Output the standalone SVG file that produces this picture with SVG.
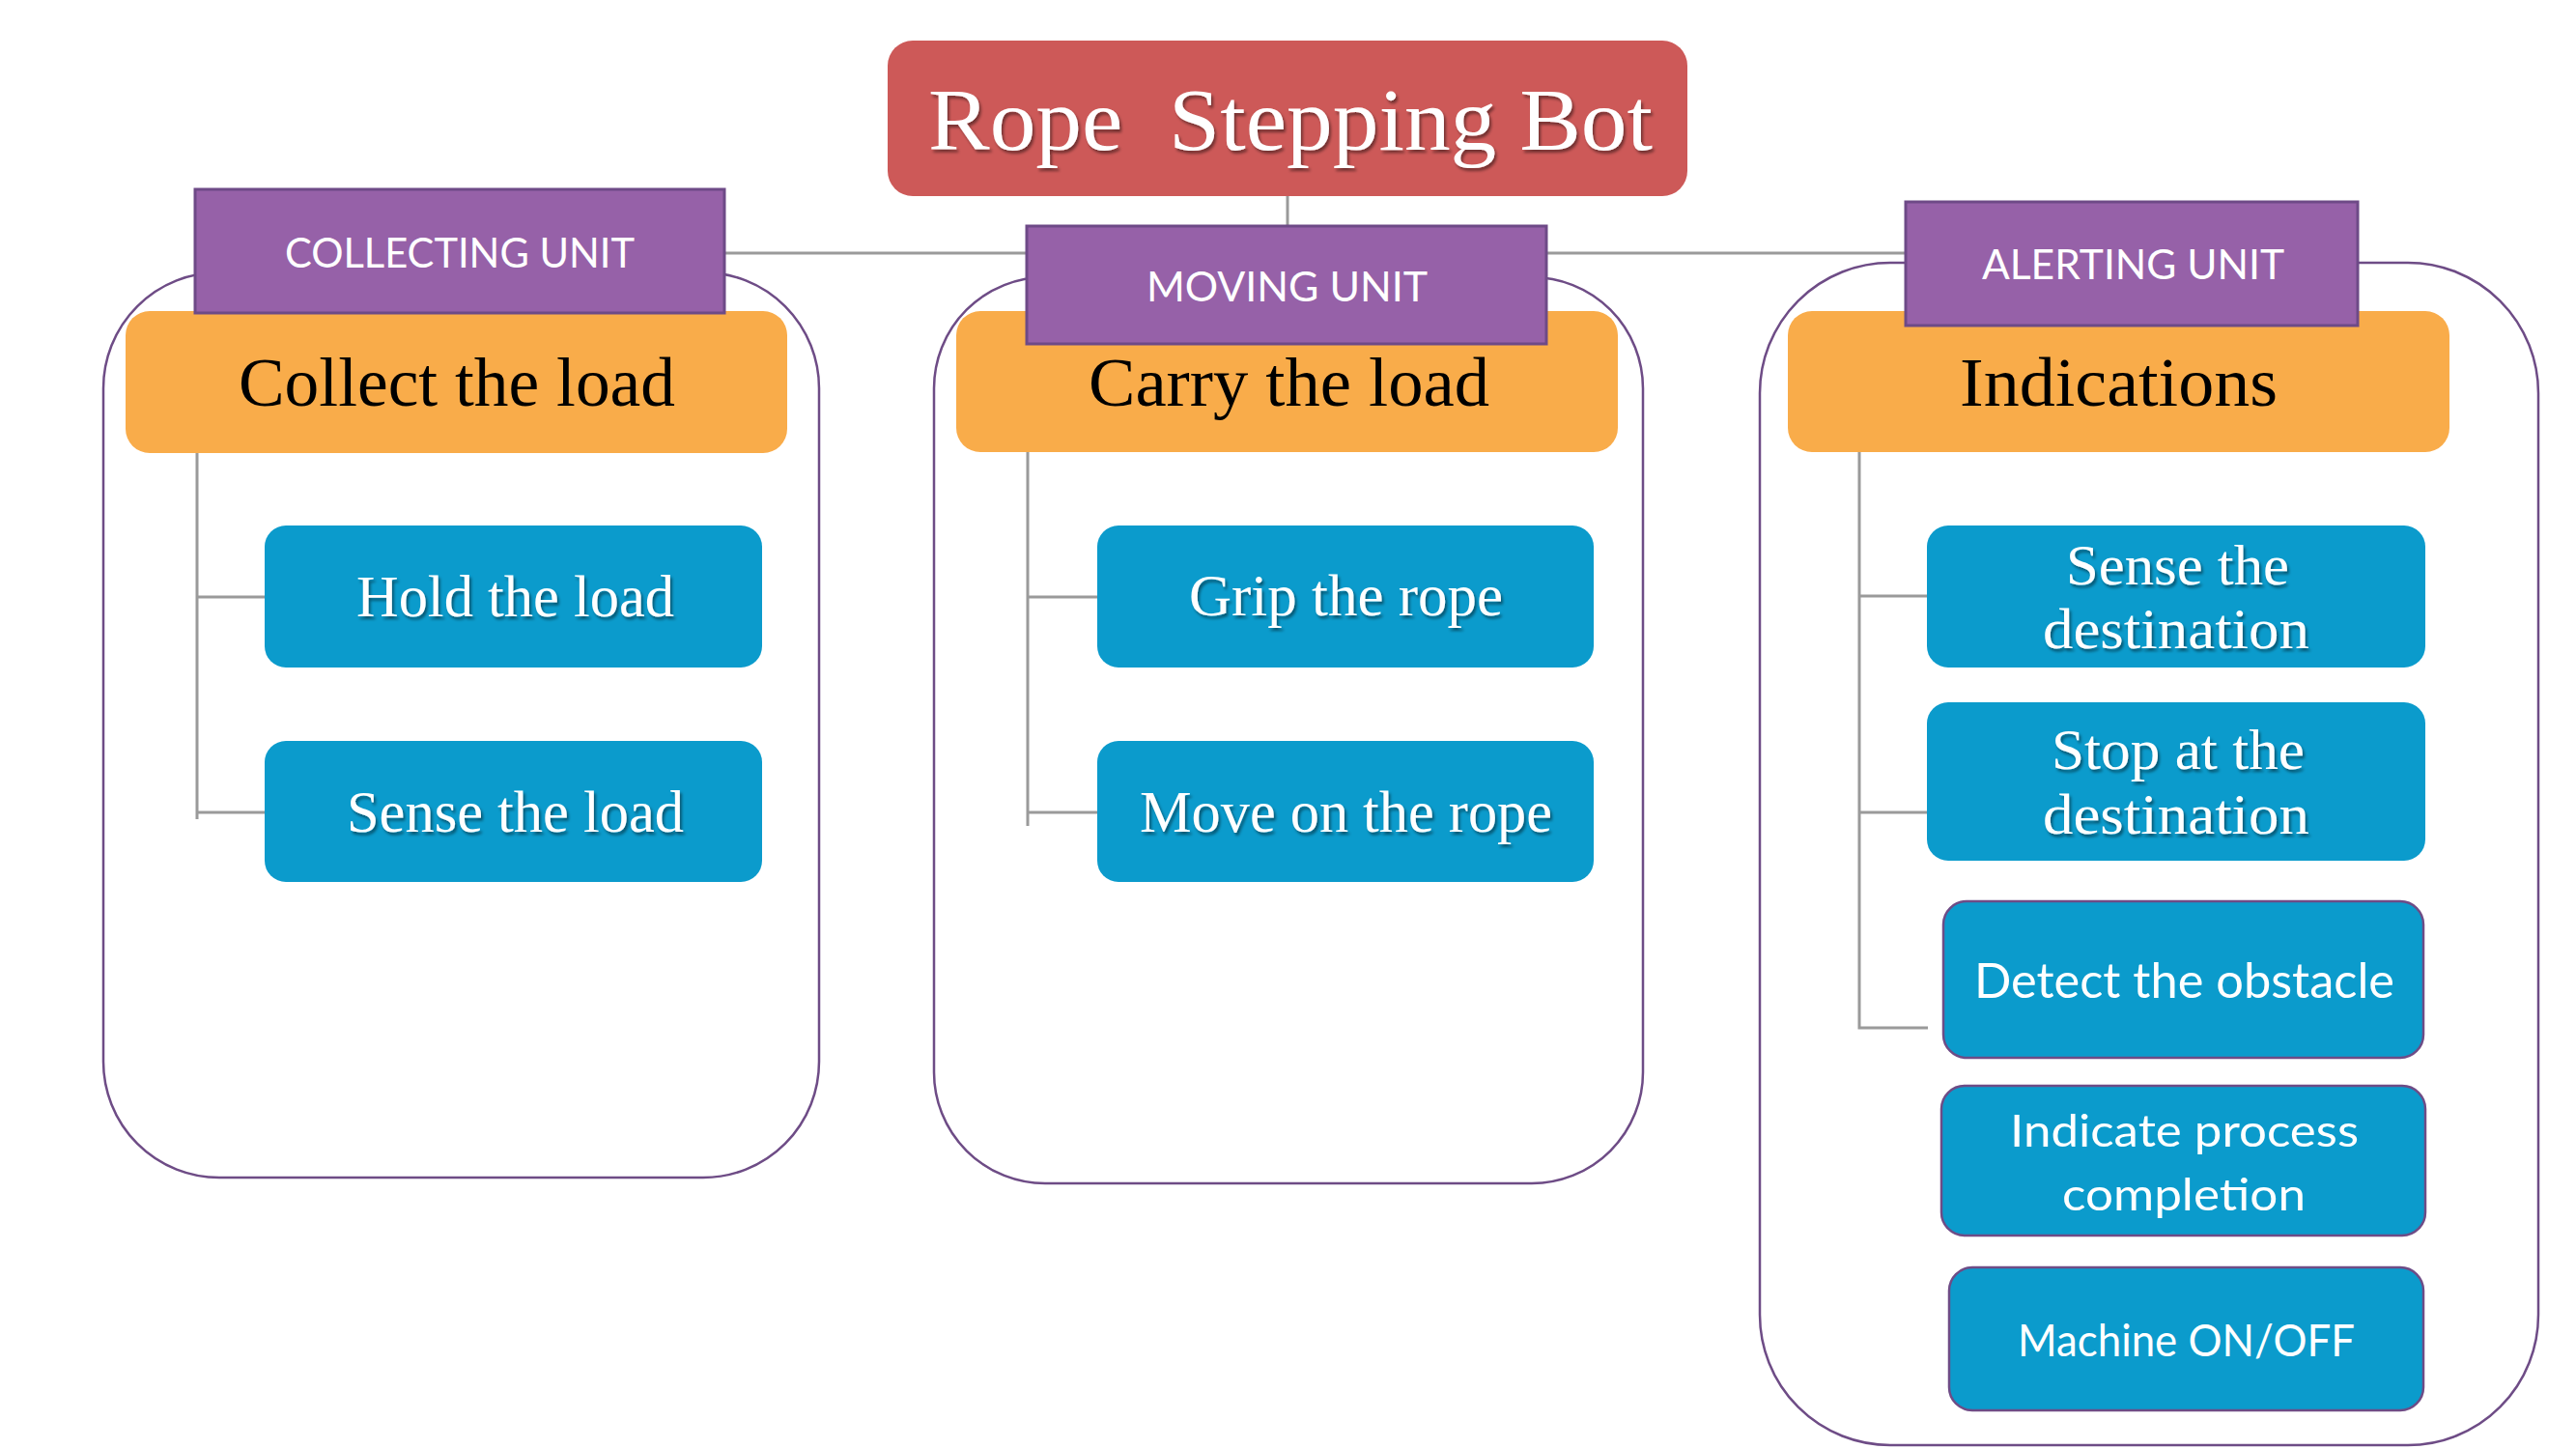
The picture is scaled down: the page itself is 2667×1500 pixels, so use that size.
<svg xmlns="http://www.w3.org/2000/svg" width="2667" height="1500" viewBox="0 0 2667 1500">
<defs>
<filter id="sh" x="-5%" y="-20%" width="110%" height="150%">
<feDropShadow dx="2" dy="3" stdDeviation="1.8" flood-color="#000" flood-opacity="0.45"/>
</filter>
<style>
.cont{fill:#fff;stroke:#6E4C86;stroke-width:2.5}
.title{fill:#CD5958}
.unit{fill:#9661A8;stroke:#6E4A87;stroke-width:3}
.head{fill:#F9AC4A}
.blue{fill:#0B9BCC}
.blueb{fill:#0B9BCC;stroke:#6E4C86;stroke-width:2.5}
.conn{fill:none;stroke:#9A9A9A;stroke-width:3}
.serifw{font-family:"Liberation Serif","DejaVu Serif",serif;fill:#fff}
.serifb{font-family:"Liberation Serif","DejaVu Serif",serif;fill:#000}
.sans{font-family:Lato,"Open Sans","Liberation Sans",sans-serif;fill:#fff}
</style>
</defs>
<rect width="2667" height="1500" fill="#fff"/>

<g id="containers">
<rect id="collect-frame" class="cont" x="107" y="282" width="741" height="937" rx="120" ry="120"/>
<rect id="moving-frame" class="cont" x="967" y="287" width="734" height="938" rx="115" ry="115"/>
<rect id="alert-frame" class="cont" x="1822" y="272" width="806" height="1224" rx="135" ry="135"/>
</g>

<g id="connectors">
<line class="conn" x1="1333" y1="203" x2="1333" y2="236"/>
<line class="conn" x1="750" y1="262" x2="1973" y2="262"/>
<path class="conn" d="M204,468 V848 M204,618 H274 M204,841 H274"/>
<path class="conn" d="M1064,468 V855 M1064,618 H1136 M1064,841 H1136"/>
<path class="conn" d="M1925,468 V1064 H1996 M1925,617 H1995 M1925,841 H1995"/>
</g>

<g id="title">
<rect class="title" x="919" y="42" width="828" height="161" rx="26" ry="26"/>
<text class="serifw" filter="url(#sh)" x="961" y="155" font-size="92" textLength="750" lengthAdjust="spacingAndGlyphs" xml:space="preserve" style="white-space:pre">Rope  Stepping Bot</text>
</g>

<g id="collect-head">
<rect class="head" x="130" y="322" width="685" height="147" rx="25" ry="25"/>
<text class="serifb" x="247" y="420" font-size="72" textLength="452" lengthAdjust="spacingAndGlyphs">Collect the load</text>
</g>
<g id="carry-head">
<rect class="head" x="990" y="322" width="685" height="146" rx="25" ry="25"/>
<text class="serifb" x="1127" y="420" font-size="72" textLength="415" lengthAdjust="spacingAndGlyphs">Carry the load</text>
</g>
<g id="indications-head">
<rect class="head" x="1851" y="322" width="685" height="146" rx="25" ry="25"/>
<text class="serifb" x="2029" y="420" font-size="72" textLength="329" lengthAdjust="spacingAndGlyphs">Indications</text>
</g>

<g id="collecting-unit">
<rect class="unit" x="202" y="196" width="548" height="128"/>
<text class="sans" x="295" y="277" font-size="42" textLength="362" lengthAdjust="spacingAndGlyphs">COLLECTING UNIT</text>
</g>
<g id="moving-unit">
<rect class="unit" x="1063" y="234" width="538" height="122"/>
<text class="sans" x="1187" y="312" font-size="42" textLength="291" lengthAdjust="spacingAndGlyphs">MOVING UNIT</text>
</g>
<g id="alerting-unit">
<rect class="unit" x="1973" y="209" width="468" height="128"/>
<text class="sans" x="2052" y="289" font-size="42" textLength="313" lengthAdjust="spacingAndGlyphs">ALERTING UNIT</text>
</g>

<g id="hold-load">
<rect class="blue" x="274" y="544" width="515" height="147" rx="22" ry="22"/>
<text class="serifw" filter="url(#sh)" x="369" y="638" font-size="62" textLength="329" lengthAdjust="spacingAndGlyphs">Hold the load</text>
</g>
<g id="sense-load">
<rect class="blue" x="274" y="767" width="515" height="146" rx="22" ry="22"/>
<text class="serifw" filter="url(#sh)" x="359" y="861" font-size="62" textLength="349" lengthAdjust="spacingAndGlyphs">Sense the load</text>
</g>
<g id="grip-rope">
<rect class="blue" x="1136" y="544" width="514" height="147" rx="22" ry="22"/>
<text class="serifw" filter="url(#sh)" x="1231" y="637" font-size="62" textLength="325" lengthAdjust="spacingAndGlyphs">Grip the rope</text>
</g>
<g id="move-rope">
<rect class="blue" x="1136" y="767" width="514" height="146" rx="22" ry="22"/>
<text class="serifw" filter="url(#sh)" x="1180" y="861" font-size="62" textLength="427" lengthAdjust="spacingAndGlyphs">Move on the rope</text>
</g>

<g id="sense-destination">
<rect class="blue" x="1995" y="544" width="516" height="147" rx="22" ry="22"/>
<text class="serifw" filter="url(#sh)" x="2139" y="605" font-size="60" textLength="231" lengthAdjust="spacingAndGlyphs">Sense the</text>
<text class="serifw" filter="url(#sh)" x="2115" y="671" font-size="60" textLength="276" lengthAdjust="spacingAndGlyphs">destination</text>
</g>
<g id="stop-destination">
<rect class="blue" x="1995" y="727" width="516" height="164" rx="22" ry="22"/>
<text class="serifw" filter="url(#sh)" x="2124" y="796" font-size="60" textLength="262" lengthAdjust="spacingAndGlyphs">Stop at the</text>
<text class="serifw" filter="url(#sh)" x="2115" y="863" font-size="60" textLength="276" lengthAdjust="spacingAndGlyphs">destination</text>
</g>
<g id="detect-obstacle">
<rect class="blueb" x="2012" y="933" width="497" height="162" rx="24" ry="24"/>
<text class="sans" x="2044" y="1033" font-size="50" textLength="435" lengthAdjust="spacingAndGlyphs">Detect the obstacle</text>
</g>
<g id="indicate-completion">
<rect class="blueb" x="2010" y="1124" width="501" height="155" rx="24" ry="24"/>
<text class="sans" x="2081" y="1187" font-size="47" textLength="361" lengthAdjust="spacingAndGlyphs">Indicate process</text>
<text class="sans" x="2135" y="1253" font-size="47" textLength="252" lengthAdjust="spacingAndGlyphs">completion</text>
</g>
<g id="machine-onoff">
<rect class="blueb" x="2018" y="1312" width="491" height="148" rx="24" ry="24"/>
<text class="sans" x="2089" y="1404" font-size="46" textLength="349" lengthAdjust="spacingAndGlyphs">Machine ON/OFF</text>
</g>
</svg>
